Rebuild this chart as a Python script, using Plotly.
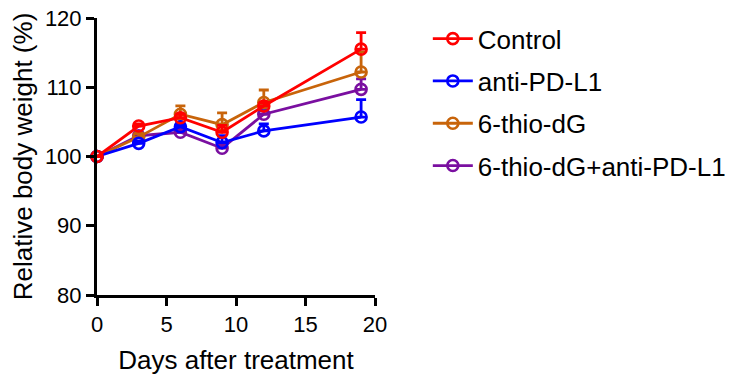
import plotly.graph_objects as go

days = [0, 3, 6, 9, 12, 19]
series_names = ["Control", "anti-PD-L1", "6-thio-dG", "6-thio-dG+anti-PD-L1"]
control = [100, 104.4, 105.6, 103.5, 107.3, 115.5]
control_err = [0, 0.3, 0.5, 1.0, 0.5, 2.4]
anti_pdl1 = [100, 101.9, 104.3, 102.0, 103.7, 105.7]
anti_pdl1_err = [0, 0.3, 0.4, 1.0, 1.0, 2.5]
thio = [100, 102.8, 106.1, 104.6, 107.8, 112.2]
thio_err = [0, 0.5, 1.2, 1.7, 1.8, 2.9]
combo = [100, 103.0, 103.5, 101.2, 106.1, 109.7]
combo_err = [0, 0.3, 0.4, 0.5, 0.5, 1.5]
colors = ["#FF0000", "#0000FF", "#C8640A", "#7A0FA0"]

values = [control, anti_pdl1, thio, combo]
errs = [control_err, anti_pdl1_err, thio_err, combo_err]

fig = go.Figure()
order = [3, 2, 1, 0]
for i in order:
    fig.add_trace(go.Scatter(
        x=days, y=values[i], name=series_names[i], mode="lines+markers",
        legendgroup=series_names[i], legendrank=i + 1,
        line=dict(color=colors[i], width=2.8),
        marker=dict(symbol="circle-open", size=11, color=colors[i], line=dict(width=2.6, color=colors[i])),
        error_y=dict(type="data", symmetric=False, array=errs[i], arrayminus=[0] * len(days),
                     color=colors[i], thickness=2.8, width=5),
        cliponaxis=False,
    ))

font = "Liberation Sans, Arial, sans-serif"
fig.update_layout(
    width=733, height=379,
    margin=dict(l=89, r=366, t=10, b=92, autoexpand=False),
    plot_bgcolor="white", paper_bgcolor="white",
    font=dict(family=font, color="black", size=22),
    legend=dict(x=1.19, y=1.01, xanchor="left", yanchor="top", font=dict(size=26, family=font),
                tracegroupgap=5.5, traceorder="grouped", bgcolor="rgba(0,0,0,0)", itemwidth=40),
    showlegend=True,
)
fig.update_xaxes(range=[0, 20], tickvals=[0, 5, 10, 15, 20], showline=True, linecolor="black", linewidth=3,
                 ticks="outside", ticklen=8, tickwidth=3, tickcolor="black", showgrid=False, zeroline=False,
                 automargin=False, tickfont=dict(size=22), ticklabeloverflow="allow",
                 title=dict(text="Days after treatment", font=dict(size=26), standoff=15))
fig.update_yaxes(range=[80, 120], tickvals=[80, 90, 100, 110, 120], showline=True, linecolor="black", linewidth=3,
                 ticks="outside", ticklen=8, tickwidth=3, tickcolor="black", showgrid=False, zeroline=False,
                 automargin=False, tickfont=dict(size=22), ticklabeloverflow="allow",
                 title=dict(text="Relative body weight (%)", font=dict(size=26), standoff=5))

fig.write_html("out.html")
